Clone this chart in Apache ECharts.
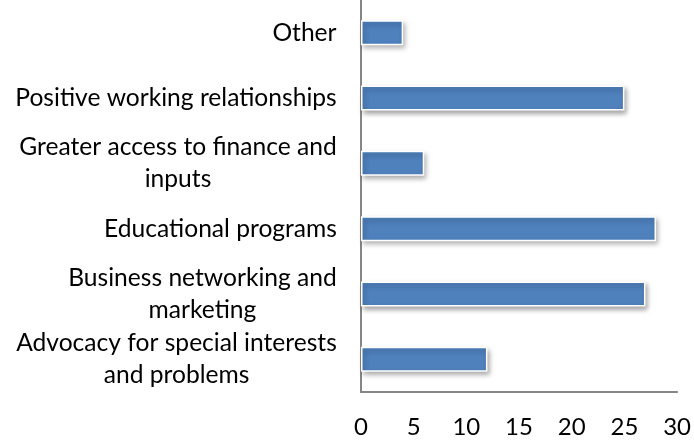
<!DOCTYPE html>
<html><head><meta charset="utf-8">
<script src="https://cdn.jsdelivr.net/npm/echarts@6/dist/echarts.min.js"></script>
<style>html,body{margin:0;padding:0;background:#fff}#c{width:694px;height:443px}</style>
</head><body><div id="c"></div>
<script>
const categories = ["Advocacy for special interests\nand problems","Business networking and\nmarketing","Educational programs","Greater access to finance and\ninputs","Positive working relationships","Other"];
const values = [12, 27, 28, 6, 25, 4];
const xTicks = [0, 5, 10, 15, 20, 25, 30];
const FONT = 'Lato';
const FS = 24.6;
const ctx = document.createElement('canvas').getContext('2d');
ctx.font = FS + 'px ' + FONT;
function fmt(v) {
  return v.split('\n').map(l => '{a|' + l + '}').join('\n');
}
const chart = echarts.init(document.getElementById('c'));
chart.setOption({
  animation: false,
  grid: {left: 361, right: 13, top: 0, bottom: 51, containLabel: false},
  xAxis: {
    type: 'value', min: xTicks[0], max: xTicks[xTicks.length-1], interval: 5,
    axisLine: {show: true, lineStyle: {color: '#868686', width: 2}},
    axisTick: {show: false}, splitLine: {show: false},
    axisLabel: {color: '#000', fontSize: 24, fontFamily: FONT, margin: 23}
  },
  yAxis: {
    type: 'category',
    data: categories.map(c => {
      const lines = c.split('\n');
      const w = Math.ceil(Math.max.apply(null, lines.map(l => ctx.measureText(l).width)));
      return {value: c, textStyle: {rich: {a: {width: w, align: 'center', fontSize: FS, fontFamily: FONT, lineHeight: 32, color: '#000'}}}};
    }),
    axisLine: {show: true, lineStyle: {color: '#868686', width: 2}},
    axisTick: {show: false},
    axisLabel: {color: '#000', fontSize: FS, fontFamily: FONT, margin: 24, lineHeight: 32, align: 'right', formatter: fmt}
  },
  series: [{
    type: 'bar', data: values, barWidth: 25,
    itemStyle: {color: '#4F81BD', borderColor: '#fff', borderWidth: 1.5,
      shadowColor: 'rgba(0,0,0,0.35)', shadowBlur: 5, shadowOffsetX: 2, shadowOffsetY: 3}
  }]
});
</script></body></html>
